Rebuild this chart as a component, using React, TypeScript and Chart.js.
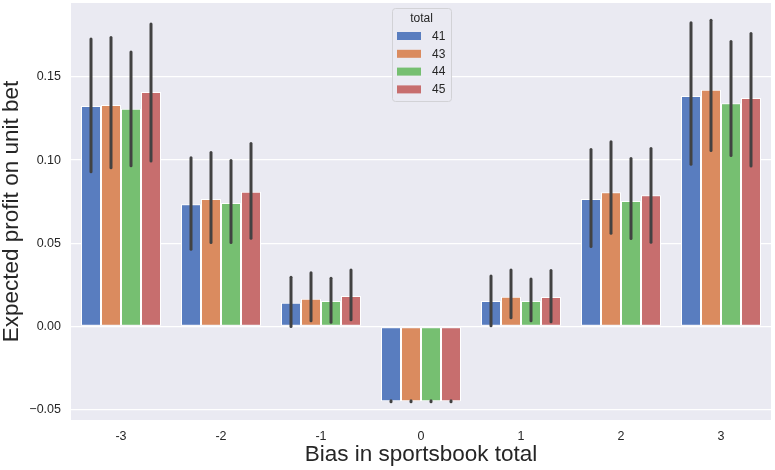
import React, { useRef, useEffect } from "react";
import { Chart, registerables } from "chart.js";

Chart.register(...registerables);

const categories = ["-3", "-2", "-1", "0", "1", "2", "3"];
const totals = ["41", "43", "44", "45"];
const colors = ["#597dbf", "#da8b5f", "#76bf71", "#c76e6e"];

const profit41 = [0.1325, 0.0734, 0.0143, -0.0449, 0.0153, 0.0766, 0.1385];
const profit43 = [0.1331, 0.0766, 0.0167, -0.0449, 0.0179, 0.0806, 0.1423];
const profit44 = [0.1309, 0.0742, 0.0153, -0.0449, 0.0153, 0.0754, 0.1341];
const profit45 = [0.1409, 0.081, 0.0183, -0.0449, 0.0177, 0.0788, 0.1373];

const lo41 = [0.093, 0.0464, 0.0, -0.0452, 0.0005, 0.048, 0.0975];
const hi41 = [0.1728, 0.1014, 0.0296, -0.0446, 0.0303, 0.1063, 0.1826];
const lo43 = [0.0954, 0.0504, 0.0035, -0.0452, 0.0053, 0.056, 0.1057];
const hi43 = [0.1736, 0.1045, 0.0323, -0.0446, 0.034, 0.111, 0.184];
const lo44 = [0.0966, 0.0504, 0.0025, -0.0452, 0.0035, 0.0528, 0.1027];
const hi44 = [0.165, 0.0997, 0.029, -0.0446, 0.0285, 0.101, 0.1712];
const lo45 = [0.0995, 0.053, 0.004, -0.0452, 0.0029, 0.0506, 0.0965];
const hi45 = [0.1818, 0.11, 0.034, -0.0446, 0.0336, 0.1069, 0.176];

const yTicks = [-0.05, 0, 0.05, 0.1, 0.15];
const yTickLabels = ["\u22120.05", "0.00", "0.05", "0.10", "0.15"];

const profits = [profit41, profit43, profit44, profit45];
const lows = [lo41, lo43, lo44, lo45];
const highs = [hi41, hi43, hi44, hi45];

const FONT = "'Liberation Sans', Arial, sans-serif";
const INK = "#262626";

const backgroundPlugin = {
  id: "panelBg",
  beforeDraw(chart: any) {
    const { ctx, chartArea } = chart;
    ctx.save();
    ctx.fillStyle = "#eaeaf2";
    ctx.fillRect(chartArea.left, chartArea.top, chartArea.right - chartArea.left, chartArea.bottom - chartArea.top);
    ctx.restore();
  },
};

const errorBarPlugin = {
  id: "errorBars",
  afterDatasetsDraw(chart: any) {
    const { ctx } = chart;
    const y = chart.scales.y;
    ctx.save();
    ctx.strokeStyle = "#424242";
    ctx.lineWidth = 3;
    ctx.lineCap = "round";
    chart.data.datasets.forEach((_ds: any, i: number) => {
      const meta = chart.getDatasetMeta(i);
      meta.data.forEach((bar: any, j: number) => {
        ctx.beginPath();
        ctx.moveTo(bar.x, y.getPixelForValue(lows[i][j]));
        ctx.lineTo(bar.x, y.getPixelForValue(highs[i][j]));
        ctx.stroke();
      });
    });
    ctx.restore();
  },
};

const legendPlugin = {
  id: "boxLegend",
  afterDraw(chart: any) {
    const { ctx } = chart;
    const left = 392;
    const top = 8;
    const w = 59;
    const h = 93;
    ctx.save();
    ctx.fillStyle = "rgba(234,234,242,0.85)";
    ctx.strokeStyle = "#d2d2d6";
    ctx.lineWidth = 1;
    ctx.beginPath();
    ctx.roundRect(left + 0.5, top + 0.5, w, h, 3);
    ctx.fill();
    ctx.stroke();
    ctx.font = `12px ${FONT}`;
    ctx.fillStyle = INK;
    ctx.textBaseline = "middle";
    ctx.textAlign = "center";
    ctx.fillText("total", left + w / 2, top + 11);
    ctx.textAlign = "left";
    chart.data.datasets.forEach((ds: any, i: number) => {
      const cy = top + 28 + i * 17.8;
      ctx.fillStyle = ds.backgroundColor;
      ctx.fillRect(left + 5, cy - 4, 24, 8);
      ctx.fillStyle = INK;
      ctx.fillText(ds.label, left + 40, cy + 0.5);
    });
    ctx.restore();
  },
};

const ProfitChart = () => {
  const chartRef = useRef<HTMLCanvasElement>(null);
  const chartInstance = useRef<Chart | null>(null);

  useEffect(() => {
    document.body.style.margin = "0";
    if (chartRef.current) {
      chartInstance.current = new Chart(chartRef.current, {
        type: "bar",
        data: {
          labels: categories,
          datasets: totals.map((t, i) => ({
            label: t,
            data: profits[i],
            backgroundColor: colors[i],
            borderColor: "#ffffff",
            borderWidth: 1,
            borderSkipped: false,
            categoryPercentage: 0.8,
            barPercentage: 1.0,
          })),
        },
        options: {
          animation: false,
          responsive: false,
          maintainAspectRatio: false,
          layout: { padding: { top: 3, right: 4, left: 0, bottom: 0 } },
          plugins: {
            legend: { display: false },
            tooltip: { enabled: false },
          },
          scales: {
            x: {
              grid: { display: false, drawTicks: false },
              border: { display: false },
              ticks: { color: INK, font: { family: FONT, size: 12.5 }, padding: 9 },
              title: {
                display: true,
                text: "Bias in sportsbook total",
                color: INK,
                font: { family: FONT, size: 22.5, lineHeight: 1 },
                padding: { top: 0, bottom: 4 },
              },
              afterFit: (scale: any) => {
                scale.height = 50;
                scale.paddingLeft = 0;
                scale.paddingRight = 0;
              },
            },
            y: {
              min: -0.0562,
              max: 0.1944,
              grid: { color: "#ffffff", lineWidth: 1.3, drawTicks: false },
              border: { display: false },
              afterBuildTicks: (scale: any) => {
                scale.ticks = yTicks.map((v) => ({ value: v }));
              },
              ticks: {
                color: INK,
                font: { family: FONT, size: 12.5 },
                padding: 10,
                callback: (value: any) => {
                  const k = yTicks.findIndex((t) => Math.abs(t - value) < 1e-9);
                  return k >= 0 ? yTickLabels[k] : "";
                },
              },
              title: {
                display: true,
                text: "Expected profit on unit bet",
                color: INK,
                font: { family: FONT, size: 22.5, lineHeight: 1 },
                padding: { top: 1, bottom: 0 },
              },
              afterFit: (scale: any) => {
                scale.width = 71;
                scale.paddingTop = 0;
                scale.paddingBottom = 0;
              },
            },
          },
        },
        plugins: [backgroundPlugin, errorBarPlugin, legendPlugin],
      });
    }
    return () => {
      chartInstance.current?.destroy();
    };
  }, []);

  return (
    <div style={{ position: "absolute", left: 0, top: 0, width: 775, height: 470 }}>
      <canvas ref={chartRef} width={775} height={470} style={{ width: 775, height: 470 }} />
    </div>
  );
};

export default function App() {
  return <ProfitChart />;
}
